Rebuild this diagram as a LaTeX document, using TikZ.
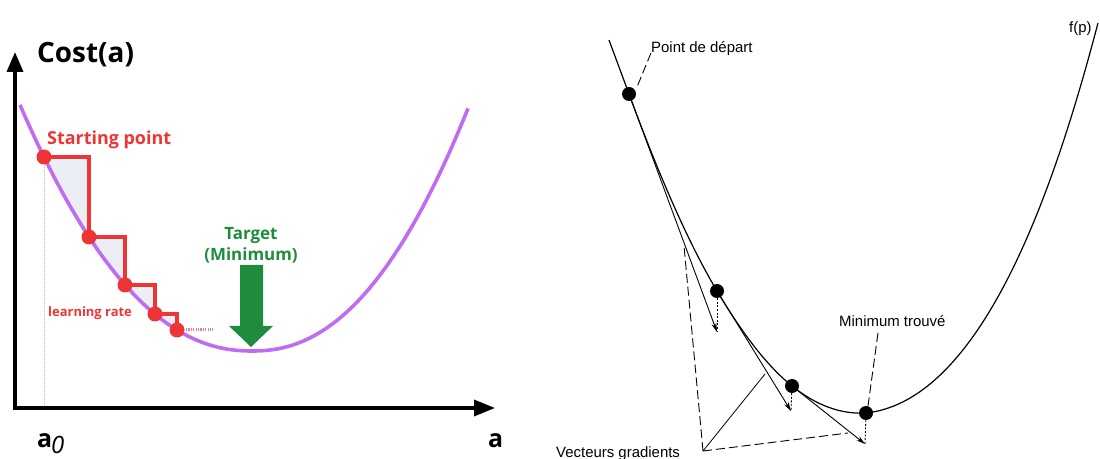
\documentclass[tikz,border=0pt]{standalone}
\usepackage{fontspec}
\setmainfont{Liberation Sans}
\newfontfamily\osans{Open Sans}
\usetikzlibrary{arrows.meta}
\definecolor{cpurple}{RGB}{192,108,242}
\definecolor{cred}{RGB}{238,52,52}
\definecolor{cgreen}{RGB}{30,140,60}
\definecolor{cfill}{RGB}{236,238,246}
\definecolor{cgray}{RGB}{185,185,185}
\definecolor{cpink}{RGB}{240,130,130}
\begin{document}
\begin{tikzpicture}[x=1bp,y=-1bp,
  axis/.style={line width=3.5bp, line join=miter,
    {Triangle[length=20bp,width=16bp]}-{Triangle[length=21bp,width=16bp]}},
  reddot/.style={circle, fill=cred, inner sep=0pt, minimum size=15bp},
  blackdot/.style={circle, fill=black, inner sep=0pt, minimum size=14bp},
  steps/.style={cred, line width=3.2bp, line join=miter},
  tri/.style={fill=cfill},
  costcurve/.style={cpurple, line width=3.6bp},
  fcurve/.style={line width=1.2bp},
  grad/.style={line width=0.9bp, -{Stealth[length=9bp,width=5bp]}},
  drop/.style={line width=0.9bp, dash pattern=on 2bp off 1.6bp},
  ptr/.style={line width=0.9bp, dash pattern=on 9bp off 4bp},
  lbl/.style={anchor=base west, inner sep=0pt, font=\fontsize{15}{18}\selectfont},
  bigbold/.style={anchor=base west, inner sep=0pt, font=\osans\bfseries\fontsize{25}{28}\selectfont},
]
\useasboundingbox (0,0) rectangle (1100,459);

% ---------------- left diagram ----------------
\coordinate (Ytop) at (15,52);
\coordinate (O) at (15,408);
\coordinate (Xend) at (495,408);
\coordinate (p1) at (44,157);
\coordinate (p2) at (89,237);
\coordinate (p3) at (125,285);
\coordinate (p4) at (155,314);
\coordinate (p5) at (177,330);
\coordinate (a0x) at (44,406);
\coordinate (tailS) at (186,330);
\coordinate (tailE) at (213,330);

% shaded triangles
\fill[tri] (p1) -| (p2) -- cycle;
\fill[tri] (p2) -| (p3) -- cycle;
\fill[tri] (p3) -| (p4) -- cycle;
\fill[tri] (p4) -| (p5) -- cycle;

% dotted guide
\draw[cgray, line width=1bp, dash pattern=on 1bp off 1bp] (p1) -- (a0x);

% axes
\draw[axis] (Ytop) -- (O) -- (Xend);

% cost curve
\draw[costcurve]
  plot[domain=20:252, samples=80] (\x, {351-39.3*((252.01-\x)/100)^2.18})
  -- plot[domain=252:468, samples=80] (\x, {351-43.9*((\x-251.99)/100)^2.22});

% steps
\draw[steps] (p1) -| (p2) -| (p3) -| (p4) -| (p5);
\draw[cpink, line width=3bp, dash pattern=on 1.2bp off 1.2bp] (tailS) -- (tailE);

% dots
\node[reddot] (d1) at (p1) {};
\node[reddot] (d2) at (p2) {};
\node[reddot] (d3) at (p3) {};
\node[reddot] (d4) at (p4) {};
\node[reddot] (d5) at (p5) {};

% green arrow
\fill[cgreen] (240,265) -- (263,265) -- (263,326) -- (273,326) -- (251,347)
  -- (229,326) -- (240,326) -- cycle;

% texts
\node[anchor=base west, inner sep=0pt, font=\osans\bfseries\fontsize{28}{30}\selectfont] (cost) at (37,63) {Cost(a)};
\node[anchor=base west, inner sep=0pt, text=cred, font=\osans\bfseries\fontsize{18}{20}\selectfont] (start) at (47,145) {Starting point};
\node[anchor=base west, inner sep=0pt, text=cred, font=\osans\bfseries\fontsize{13}{15}\selectfont] (lr) at (48,316.5) {learning rate};
\node[anchor=base, inner sep=0pt, text=cgreen, font=\osans\bfseries\fontsize{17}{20}\selectfont] (target) at (251,240) {Target};
\node[anchor=base, inner sep=0pt, text=cgreen, font=\osans\bfseries\fontsize{17}{20}\selectfont] (minim) at (251,261) {(Minimum)};
\node[bigbold] (a0) at (37,447) {a};
\node[anchor=base west, inner sep=0pt, font=\osans\itshape\fontsize{24}{26}\selectfont] (sub0) at (51,453) {0};
\node[bigbold] (aax) at (488,447) {a};

% ---------------- right diagram ----------------
\coordinate (top) at (609,40);
\coordinate (q1) at (629,94);
\coordinate (q2) at (717,291);
\coordinate (q3) at (792,386);
\coordinate (q4) at (866,413);
\coordinate (fend) at (1098,23);
\coordinate (t1) at (717,332);
\coordinate (t2) at (791,411);
\coordinate (t3) at (865,444);
\coordinate (V) at (703,451);
\coordinate (g1) at (684,246);
\coordinate (g2) at (765,374);
\coordinate (g3) at (848,433);
\coordinate (pdp) at (637,87);
\coordinate (mts) at (878,333);
\coordinate (mtp) at (868,406);

\draw[fcurve] (top) -- (q1)
  .. controls (658.3,173.5) and (687.7,241.8) .. (q2)
  .. controls (742,333) and (767,366) .. (q3)
  .. controls (816.7,405.7) and (841.3,414.5) .. (q4)
  .. controls (986,400) and (1058,175) .. (fend);

\draw[grad] (q1) -- (t1);
\draw[grad] (q2) -- (t2);
\draw[grad] (q3) -- (t3);

\node[blackdot] (e1) at (q1) {};
\node[blackdot] (e2) at (q2) {};
\node[blackdot] (e3) at (q3) {};
\node[blackdot] (e4) at (q4) {};

\draw[drop] (e2) -- (t1);
\draw[drop] (e3) -- (t2);
\draw[drop] (e4) -- (t3);

\draw[ptr] (V) -- (g1);
\draw[line width=0.8bp] (V) -- (g2);
\draw[ptr] (V) -- (g3);

\node[lbl] (pd) at (651,53) {Point de départ};
\draw[ptr] (pd.base west) -- (pdp);
\node[lbl] (mt) at (839,327) {Minimum trouvé};
\draw[ptr] (mts) -- (mtp);
\node[lbl] (vg) at (556,457.5) {Vecteurs gradients};
\node[lbl] (fp) at (1069,33) {f(p)};
\end{tikzpicture}
\end{document}
